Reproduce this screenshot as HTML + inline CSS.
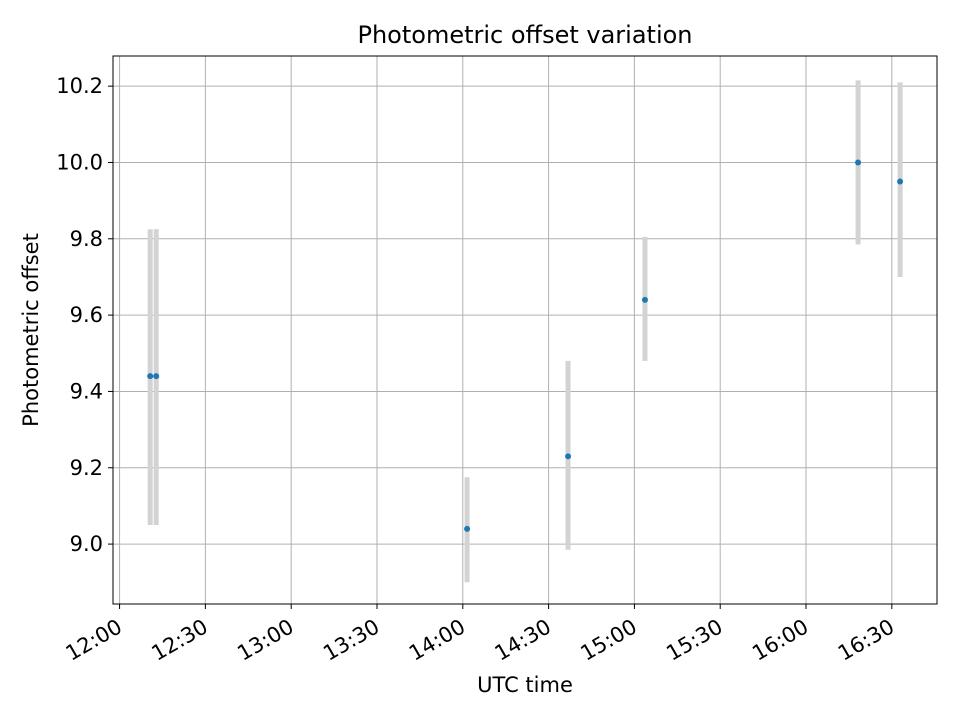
<!DOCTYPE html>
<html><head><meta charset="utf-8"><style>
html,body{margin:0;padding:0;background:#fff;}
svg text{font-family:"DejaVu Sans","Liberation Sans",sans-serif;}
</style></head><body>
<svg id="chart" width="960" height="720" xmlns="http://www.w3.org/2000/svg">
<rect width="960" height="720" fill="#fff"/>
<text x="525" y="43" style="font-size:24px" text-anchor="middle" fill="#000">Photometric offset variation</text>
<g id="grid"></g>
<g id="errs"></g>
<g id="pts"></g>
<rect x="113" y="56" width="824" height="548" fill="none" stroke="#000" stroke-width="1"/>
<g id="xt"></g>
<g id="yt"></g>
<text x="525" y="692" style="font-size:21px" text-anchor="middle">UTC time</text>
<text transform="translate(38,330) rotate(-90)" style="font-size:21px" text-anchor="middle">Photometric offset</text>
</svg>
<script>
// minutes after 12:00
const times = [10.7, 12.8, 121.5, 156.8, 183.7, 258.2, 272.9];
const offsets = [9.44, 9.44, 9.04, 9.23, 9.64, 10.00, 9.95];
const errLow = [9.05, 9.05, 8.90, 8.985, 9.48, 9.785, 9.70];
const errHigh = [9.825, 9.825, 9.175, 9.48, 9.805, 10.215, 10.21];
const xTickMinutes = [0,30,60,90,120,150,180,210,240,270];
const xTickLabels = ["12:00","12:30","13:00","13:30","14:00","14:30","15:00","15:30","16:00","16:30"];
const yTicks = [9.0,9.2,9.4,9.6,9.8,10.0,10.2];

const NS="http://www.w3.org/2000/svg";
const L=113,R=937,T=56,B=604;
const xMin=-2.3,xMax=285.8,yMin=8.843,yMax=10.279;
const sx=v=>L+(v-xMin)/(xMax-xMin)*(R-L);
const sy=v=>B-(v-yMin)/(yMax-yMin)*(B-T);
function mk(tag,attrs,parent){const e=document.createElementNS(NS,tag);for(const k in attrs)e.setAttribute(k,attrs[k]);parent.appendChild(e);return e;}
const grid=document.getElementById('grid'),xt=document.getElementById('xt'),yt=document.getElementById('yt');
xTickMinutes.forEach((m,i)=>{
  const x=sx(m);
  const g=mk('line',{x1:x,x2:x,y1:T,y2:B,stroke:'#b0b0b0','stroke-width':1},grid);
  
  const t=mk('line',{x1:x,x2:x,y1:B,y2:B+5,stroke:'#000','stroke-width':1},xt);
  
  const lb=mk('text',{transform:`translate(${x+4},${B+27}) rotate(-30)`,style:'font-size:21px','text-anchor':'end'},xt);
  lb.textContent=xTickLabels[i];
  
});
yTicks.forEach(v=>{
  const y=sy(v);
  const g=mk('line',{x1:L,x2:R,y1:y,y2:y,stroke:'#b0b0b0','stroke-width':1},grid);
  
  const t=mk('line',{x1:L-5,x2:L,y1:y,y2:y,stroke:'#000','stroke-width':1},yt);
  
  const lb=mk('text',{x:L-10,y:y+7,style:'font-size:21px','text-anchor':'end'},yt);
  lb.textContent=v.toFixed(1);
  
});
const errs=document.getElementById('errs'),pts=document.getElementById('pts');
times.forEach((m,i)=>{
  const x=sx(m);
  const e=mk('line',{x1:x,x2:x,y1:sy(errLow[i]),y2:sy(errHigh[i]),stroke:'#d3d3d3','stroke-width':5},errs);
  
  const p=mk('circle',{cx:x,cy:sy(offsets[i]),r:3,fill:'#1f77b4'},pts);
  
});
</script>
</body></html>
